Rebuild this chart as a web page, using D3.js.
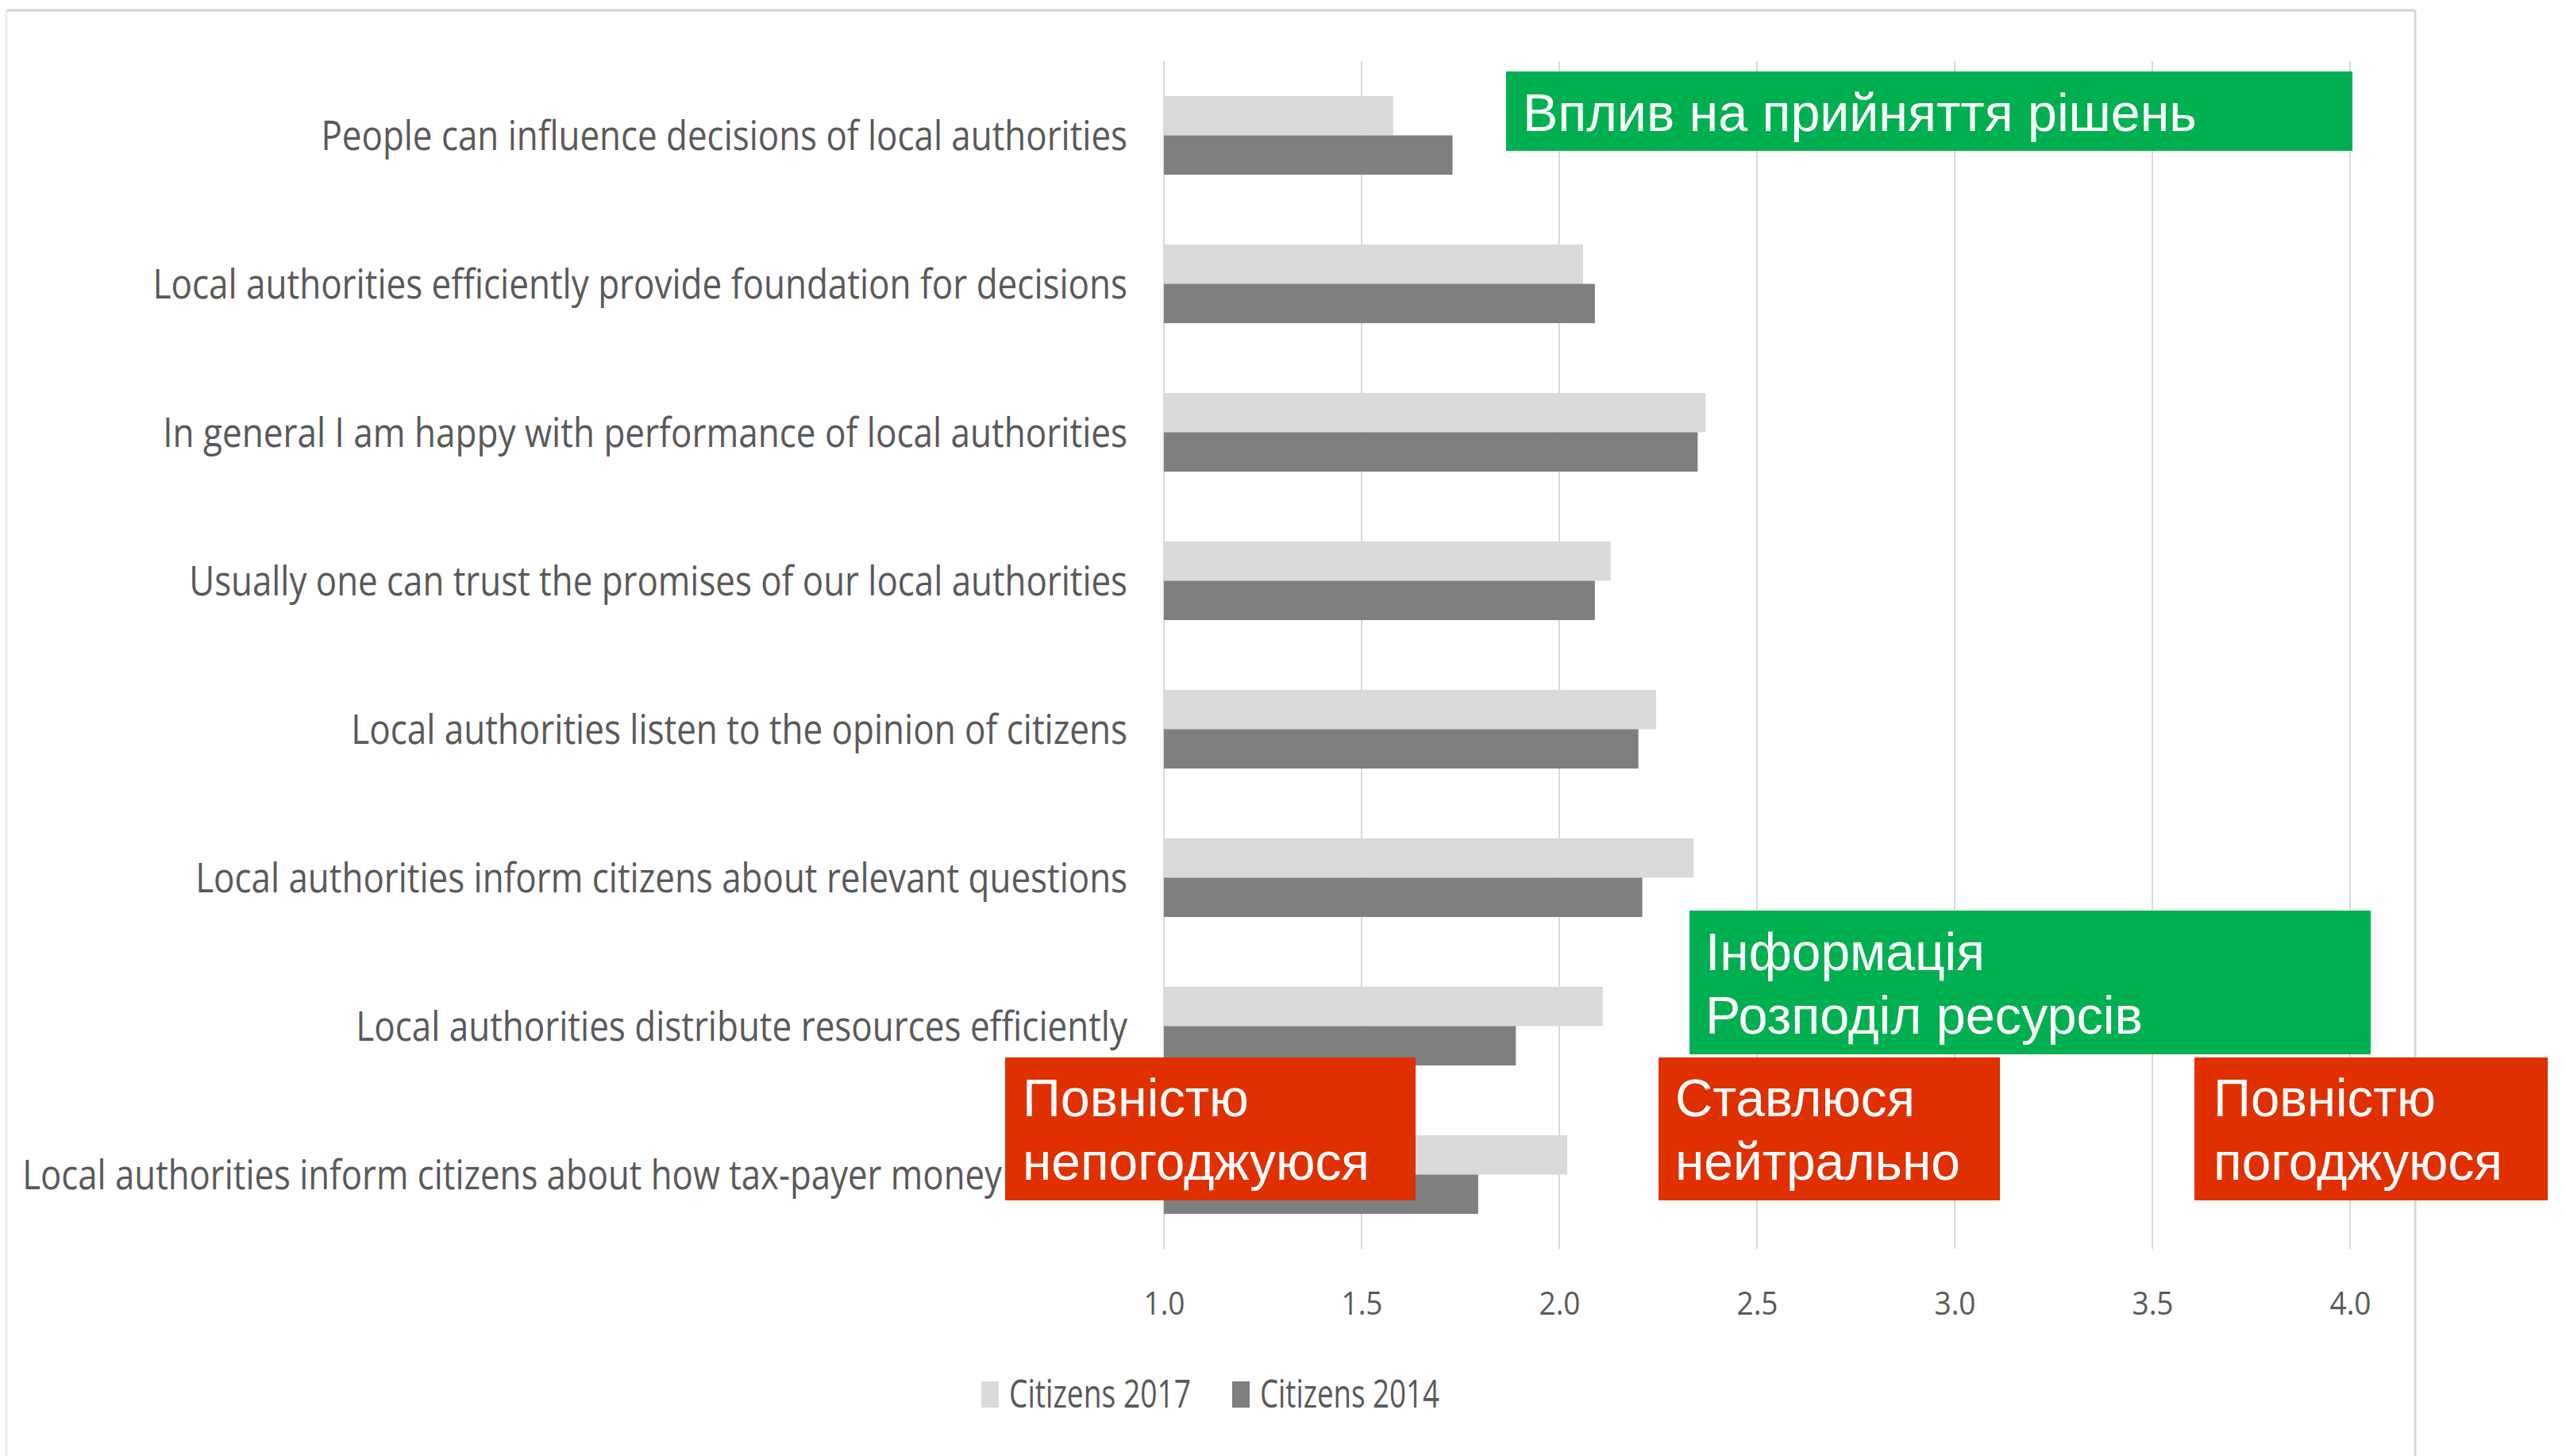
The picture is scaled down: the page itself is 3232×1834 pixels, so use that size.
<!DOCTYPE html>
<html>
<head>
<meta charset="utf-8">
<script src="https://cdn.jsdelivr.net/npm/d3@7"></script>
<style>
  html, body { margin: 0; padding: 0; background: #ffffff; }
  svg { display: block; }
</style>
</head>
<body>
<script>
// ---- data ----
const categories = [
  "People can influence decisions of local authorities",
  "Local authorities efficiently provide foundation for decisions",
  "In general I am happy with performance of local authorities",
  "Usually one can trust the promises of our local authorities",
  "Local authorities listen to the opinion of citizens",
  "Local authorities inform citizens about relevant questions",
  "Local authorities distribute resources efficiently",
  "Local authorities inform citizens about how tax-payer money"
];
const seriesNames = ["Citizens 2017", "Citizens 2014"];
const values2017 = [1.58, 2.06, 2.37, 2.13, 2.245, 2.34, 2.11, 2.02];
const values2014 = [1.73, 2.09, 2.35, 2.09, 2.20, 2.21, 1.89, 1.795];
const tickValues = [1.0, 1.5, 2.0, 2.5, 3.0, 3.5, 4.0];
const tickLabels = ["1.0", "1.5", "2.0", "2.5", "3.0", "3.5", "4.0"];

const noteInfluence = ["Вплив на прийняття рішень"];
const noteInfo = ["Інформація", "Розподіл ресурсів"];
const noteDisagree = ["Повністю", "непогоджуюся"];
const noteNeutral = ["Ставлюся", "нейтрально"];
const noteAgree = ["Повністю", "погоджуюся"];

// ---- layout ----
const W = 3232, H = 1834;
const colors = { "Citizens 2017": "#d9d9d9", "Citizens 2014": "#7f7f7f" };
const textGray = "#595959";
const labelFont = "'Open Sans', 'Noto Sans', sans-serif";
const boxFont = "'Liberation Sans', Arial, sans-serif";

const svg = d3.select("body").append("svg")
  .attr("width", W).attr("height", H)
  .attr("viewBox", `0 0 ${W} ${H}`);

svg.append("rect").attr("width", W).attr("height", H).attr("fill", "#fff");

// horizontally condense a text so that it spans the given width (real transform, so its box is true)
function condense(sel, widthFn, xFn, yFn) {
  sel.each(function(d, i) {
    const t = d3.select(this);
    t.attr("x", 0).attr("y", 0);
    const natural = this.getComputedTextLength();
    const s = natural > 0 ? widthFn(d, i) / natural : 1;
    t.attr("transform", `translate(${xFn(d, i)},${yFn(d, i)}) scale(${s},1)`);
  });
}

// frame of the pasted chart
svg.append("line").attr("x1", 8).attr("x2", 3042).attr("y1", 13).attr("y2", 13)
  .attr("stroke", "#d2d2d2").attr("stroke-width", 3);
svg.append("line").attr("x1", 3042).attr("x2", 3042).attr("y1", 13).attr("y2", H)
  .attr("stroke", "#d6d6d6").attr("stroke-width", 3);
svg.append("line").attr("x1", 8).attr("x2", 8).attr("y1", 13).attr("y2", H)
  .attr("stroke", "#eeeeee").attr("stroke-width", 3);

const x = d3.scaleLinear().domain([1, 4]).range([1466, 2960]);
const y = d3.scaleBand().domain(categories).range([77, 1573])
  .paddingInner(0.47).paddingOuter(0.235);
const ySub = d3.scaleBand().domain(seriesNames).range([0, y.bandwidth()]);

// gridlines
svg.append("g").selectAll("line").data(tickValues).join("line")
  .attr("x1", d => x(d)).attr("x2", d => x(d))
  .attr("y1", y.range()[0]).attr("y2", y.range()[1])
  .attr("stroke", "#d9d9d9").attr("stroke-width", 2);

// bars
const rows = categories.map((c, i) => ({ cat: c, vals: [
  { s: seriesNames[0], v: values2017[i] },
  { s: seriesNames[1], v: values2014[i] }
]}));

const g = svg.append("g").selectAll("g").data(rows).join("g")
  .attr("transform", d => `translate(0,${y(d.cat)})`);
g.selectAll("rect").data(d => d.vals).join("rect")
  .attr("x", x(1))
  .attr("y", d => ySub(d.s))
  .attr("width", d => x(d.v) - x(1))
  .attr("height", ySub.bandwidth())
  .attr("fill", d => colors[d.s]);

// category labels (last one is cut by the red note box in the original)
const labelEnds = [1420, 1420, 1420, 1420, 1420, 1420, 1420, 1262];
const labelWidths = [1016, 1228, 1215, 1182, 978, 1174, 972, 1234];
const catText = svg.append("g").selectAll("text").data(categories).join("text")
  .attr("text-anchor", "end")
  .attr("font-family", labelFont)
  .attr("font-size", 52)
  .attr("fill", textGray)
  .text(d => d);
condense(catText, (d, i) => labelWidths[i], (d, i) => labelEnds[i],
  d => y(d) + y.bandwidth() / 2 + 18.5);

// x axis labels
const xAxis = d3.axisBottom(x).tickValues(tickValues)
  .tickFormat((d, i) => tickLabels[i]).tickSize(0).tickPadding(0);
const ax = svg.append("g").attr("transform", "translate(0,1626)").call(xAxis);
ax.select(".domain").remove();
const tickText = ax.selectAll("text")
  .attr("dy", 0)
  .attr("font-family", labelFont).attr("font-size", 41)
  .attr("fill", textGray);
condense(tickText, () => 52, () => 0, () => 30);

// legend
const legendX = [1236, 1552];
const legendW = [229, 226];
const leg = svg.append("g").selectAll("g").data(seriesNames).join("g")
  .attr("transform", (d, i) => `translate(${legendX[i]},0)`);
leg.append("rect").attr("x", 0).attr("y", 1740).attr("width", 22).attr("height", 33)
  .attr("fill", d => colors[d]);
const legText = leg.append("text")
  .attr("font-family", labelFont).attr("font-size", 50)
  .attr("fill", textGray)
  .text(d => d);
condense(legText, (d, i) => legendW[i], () => 35, () => 1773);

// annotation boxes
function note(lines, bx, by, bw, bh, fill, tx, baselines, lengths) {
  const n = svg.append("g");
  n.append("rect").attr("x", bx).attr("y", by).attr("width", bw).attr("height", bh)
    .attr("fill", fill);
  const t = n.selectAll("text").data(lines).join("text")
    .attr("font-family", boxFont).attr("font-size", 66)
    .attr("fill", "#ffffff")
    .text(d => d);
  condense(t, (d, i) => lengths[i], () => tx, (d, i) => baselines[i]);
}
const green = "#00b050", red = "#e03000";
note(noteInfluence, 1897, 90, 1066, 100, green, 1918, [165], [849]);
note(noteInfo, 2128, 1147, 858, 181, green, 2148, [1222, 1302], [352, 551]);
note(noteDisagree, 1266, 1332, 517, 180, red, 1288, [1406, 1486], [285, 437]);
note(noteNeutral, 2089, 1332, 430, 180, red, 2110, [1406, 1486], [302, 359]);
note(noteAgree, 2764, 1332, 445, 180, red, 2788, [1406, 1486], [280, 364]);
</script>
</body>
</html>
